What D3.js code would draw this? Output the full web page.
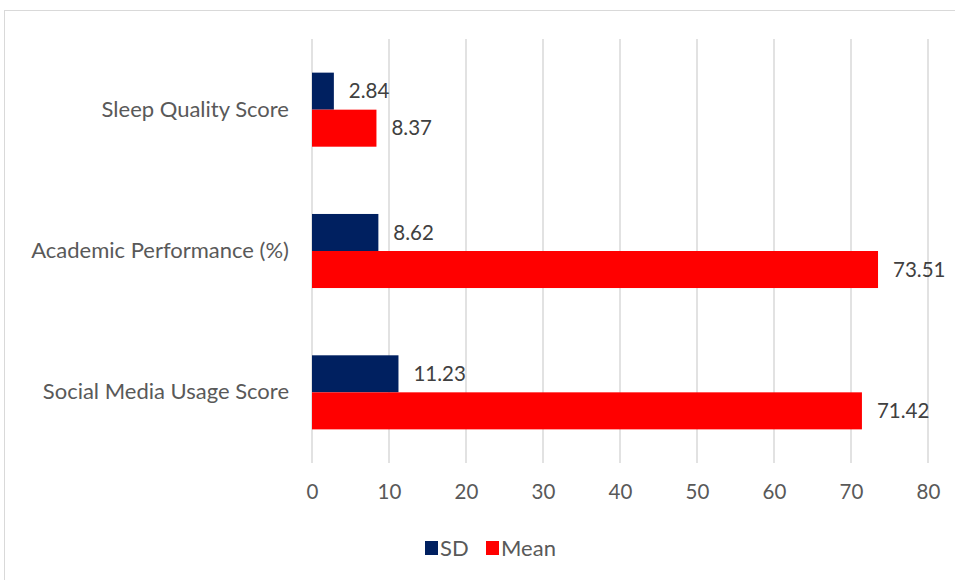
<!DOCTYPE html>
<html>
<head>
<meta charset="utf-8">
<script src="https://cdn.jsdelivr.net/npm/d3@7"></script>
<style>
  html, body { margin: 0; padding: 0; background: #fff; }
  svg { display: block; font-family: Lato, "Open Sans", sans-serif; }
</style>
</head>
<body>
<svg id="chart" width="955" height="580"></svg>
<script>
// Descriptive statistics per measure
const categories = ["Sleep Quality Score", "Academic Performance (%)", "Social Media Usage Score"];
const seriesNames = ["SD", "Mean"];
const sdValues = [2.84, 8.62, 11.23];
const meanValues = [8.37, 73.51, 71.42];
const xTicks = [0, 10, 20, 30, 40, 50, 60, 70, 80];
const colors = { SD: "#002060", Mean: "#FF0000" };

const rows = categories.map((c, i) => ({ category: c, SD: sdValues[i], Mean: meanValues[i] }));

const svg = d3.select("#chart");

// chart frame
svg.append("rect")
  .attr("x", 4.5).attr("y", 10.5)
  .attr("width", 1000).attr("height", 700)
  .attr("fill", "#fff").attr("stroke", "#d9d9d9").attr("stroke-width", 1);

const x = d3.scaleLinear().domain([0, 80]).range([312, 928]);
const y = d3.scaleBand().domain(categories).range([39, 463])
  .paddingInner(0.476).paddingOuter(0.238);
const ySub = d3.scaleBand().domain(seriesNames).range([0, y.bandwidth()]);

// vertical gridlines
svg.append("g").selectAll("line").data(xTicks).join("line")
  .attr("x1", d => x(d)).attr("x2", d => x(d))
  .attr("y1", 39).attr("y2", 463)
  .attr("stroke", "#d9d9d9").attr("stroke-width", 1.5);

// x tick labels
const xAxis = svg.append("g").attr("transform", "translate(0,463)")
  .call(d3.axisBottom(x).tickValues(xTicks).tickSize(0).tickPadding(21));
xAxis.select(".domain").remove();
xAxis.selectAll("text")
  .attr("font-family", "Lato, sans-serif").attr("font-size", 20.5)
  .attr("fill", "#595959");

// category labels
const yAxis = svg.append("g").attr("transform", "translate(312,0)")
  .call(d3.axisLeft(y).tickSize(0).tickPadding(23));
yAxis.select(".domain").remove();
yAxis.selectAll("text")
  .attr("font-family", "Lato, sans-serif").attr("font-size", 22)
  .attr("fill", "#595959");

// bars
const groups = svg.append("g").selectAll("g").data(rows).join("g")
  .attr("transform", d => `translate(0,${y(d.category)})`);

seriesNames.forEach(s => {
  groups.append("rect")
    .attr("x", x(0))
    .attr("y", ySub(s))
    .attr("width", d => x(d[s]) - x(0))
    .attr("height", ySub.bandwidth())
    .attr("fill", colors[s]);

  groups.append("text")
    .attr("x", d => x(d[s]) + 15)
    .attr("y", ySub(s) + ySub.bandwidth() / 2)
    .attr("dy", "0.35em")
    .attr("font-size", 20.5)
    .attr("fill", "#404040")
    .text(d => d3.format(".2f")(d[s]));
});

// legend
const legend = svg.append("g");
const legendItems = [
  { name: "SD", x: 425 },
  { name: "Mean", x: 486 }
];
legendItems.forEach(item => {
  legend.append("rect")
    .attr("x", item.x).attr("y", 541)
    .attr("width", 13).attr("height", 14)
    .attr("fill", colors[item.name]);
  legend.append("text")
    .attr("x", item.x + 15).attr("y", 548)
    .attr("dy", "0.35em")
    .attr("font-size", 22)
    .attr("fill", "#595959")
    .text(item.name);
});
</script>
</body>
</html>
